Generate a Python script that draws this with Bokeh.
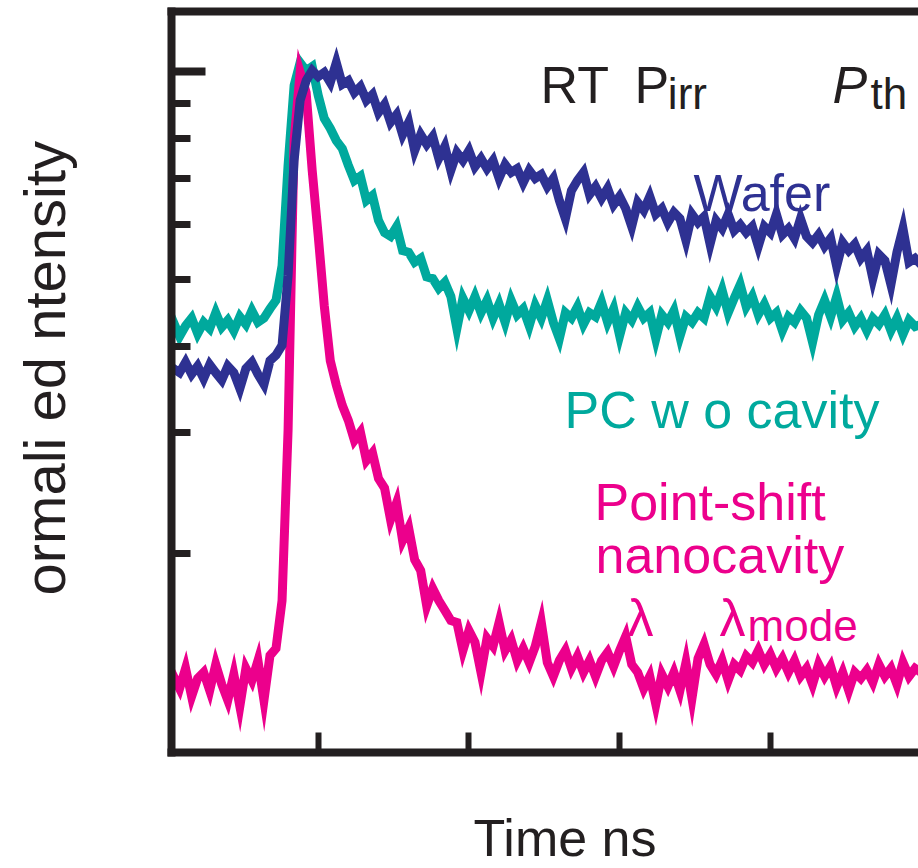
from bokeh.plotting import figure
from bokeh.models import Range1d, FixedTicker, LinearAxis, Label, CustomJSTickFormatter, Title
from bokeh.embed import file_html
from bokeh.resources import INLINE

# ---------------- data ----------------
t_ns = [0.00, 0.04, 0.08, 0.12, 0.16, 0.20, 0.24, 0.28, 0.32, 0.36,
        0.40, 0.44, 0.48, 0.52, 0.56, 0.60, 0.64, 0.68, 0.72, 0.76,
        0.80, 0.84, 0.88, 0.92, 0.96, 1.00, 1.04, 1.08, 1.12, 1.16,
        1.20, 1.24, 1.28, 1.32, 1.36, 1.40, 1.44, 1.48, 1.52, 1.56,
        1.60, 1.64, 1.68, 1.72, 1.76, 1.80, 1.84, 1.88, 1.92, 1.96,
        2.00, 2.04, 2.08, 2.12, 2.16, 2.20, 2.24, 2.28, 2.32, 2.36,
        2.40, 2.44, 2.48, 2.52, 2.56, 2.60, 2.64, 2.68, 2.72, 2.76,
        2.80, 2.84, 2.88, 2.92, 2.96, 3.00, 3.04, 3.08, 3.12, 3.16,
        3.20, 3.24, 3.28, 3.32, 3.36, 3.40, 3.44, 3.48, 3.52, 3.56,
        3.60, 3.64, 3.68, 3.72, 3.76, 3.80, 3.84, 3.88, 3.92, 3.96,
        4.00, 4.04, 4.08, 4.12, 4.16, 4.20, 4.24, 4.28, 4.32, 4.36,
        4.40, 4.44, 4.48, 4.52, 4.56, 4.60, 4.64, 4.68, 4.72, 4.76,
        4.80, 4.84, 4.88, 4.92, 4.96, 5.00]

pc_no_cavity = [0.418, 0.433, 0.413, 0.428, 0.439, 0.417, 0.433, 0.424, 0.447, 0.426,
                0.436, 0.421, 0.441, 0.430, 0.450, 0.433, 0.439, 0.453, 0.466, 0.523,
                0.731, 0.954, 1.030, 1.003, 1.017, 0.923, 0.855, 0.827, 0.794, 0.773,
                0.731, 0.695, 0.705, 0.650, 0.661, 0.608, 0.584, 0.577, 0.596, 0.550,
                0.547, 0.529, 0.536, 0.504, 0.501, 0.485, 0.495, 0.472, 0.424, 0.469,
                0.450, 0.472, 0.447, 0.466, 0.439, 0.460, 0.433, 0.466, 0.444, 0.453,
                0.428, 0.458, 0.439, 0.466, 0.433, 0.410, 0.447, 0.439, 0.456, 0.430,
                0.447, 0.441, 0.463, 0.433, 0.453, 0.414, 0.447, 0.436, 0.456, 0.439,
                0.447, 0.410, 0.444, 0.433, 0.450, 0.413, 0.441, 0.433, 0.447, 0.439,
                0.472, 0.456, 0.482, 0.447, 0.469, 0.491, 0.456, 0.472, 0.444, 0.460,
                0.439, 0.447, 0.421, 0.441, 0.433, 0.450, 0.439, 0.405, 0.444, 0.466,
                0.441, 0.472, 0.436, 0.447, 0.427, 0.439, 0.421, 0.439, 0.430, 0.444,
                0.421, 0.439, 0.416, 0.436, 0.427, 0.430]

wafer = [0.359, 0.371, 0.366, 0.379, 0.364, 0.374, 0.359, 0.376, 0.366, 0.357,
         0.374, 0.366, 0.347, 0.371, 0.379, 0.364, 0.352, 0.381, 0.388, 0.401,
         0.506, 0.743, 0.908, 0.970, 1.003, 0.983, 0.997, 0.964, 1.030, 0.958,
         0.970, 0.932, 0.951, 0.908, 0.926, 0.872, 0.896, 0.844, 0.866, 0.810,
         0.844, 0.768, 0.810, 0.784, 0.805, 0.748, 0.779, 0.719, 0.763, 0.743,
         0.768, 0.728, 0.748, 0.723, 0.743, 0.700, 0.733, 0.714, 0.723, 0.690,
         0.719, 0.700, 0.709, 0.681, 0.700, 0.650, 0.612, 0.672, 0.695, 0.714,
         0.663, 0.681, 0.655, 0.677, 0.641, 0.659, 0.633, 0.596, 0.646, 0.629,
         0.659, 0.621, 0.633, 0.604, 0.625, 0.612, 0.569, 0.621, 0.604, 0.616,
         0.562, 0.608, 0.592, 0.621, 0.588, 0.600, 0.584, 0.596, 0.558, 0.596,
         0.584, 0.621, 0.580, 0.592, 0.573, 0.612, 0.577, 0.565, 0.580, 0.558,
         0.573, 0.522, 0.565, 0.550, 0.562, 0.536, 0.550, 0.501, 0.543, 0.532,
         0.491, 0.547, 0.592, 0.529, 0.536, 0.525]

nanocavity = [0.1267, 0.1328, 0.1275, 0.1364, 0.1242, 0.1319, 0.1346, 0.1267, 0.1382, 0.1293,
              0.1226, 0.1337, 0.1202, 0.1364, 0.1310, 0.1400, 0.1226, 0.1424, 0.1458, 0.171,
              0.302, 0.794, 0.997, 0.932, 0.719, 0.578, 0.458, 0.381, 0.351, 0.328,
              0.312, 0.292, 0.300, 0.273, 0.280, 0.257, 0.249, 0.224, 0.237, 0.209,
              0.218, 0.196, 0.189, 0.168, 0.178, 0.171, 0.1655, 0.160, 0.159, 0.1448,
              0.1548, 0.1488, 0.1346, 0.1508, 0.1468, 0.159, 0.1448, 0.150, 0.140, 0.1458,
              0.1391, 0.1468, 0.159, 0.1391, 0.1328, 0.140, 0.1448, 0.1364, 0.1420, 0.1346,
              0.140, 0.1328, 0.140, 0.1439, 0.1373, 0.1448, 0.1518, 0.1382, 0.1346, 0.1275,
              0.1328, 0.1210, 0.1337, 0.1284, 0.1346, 0.1267, 0.1391, 0.1234, 0.1410, 0.1478,
              0.1382, 0.1337, 0.140, 0.131, 0.1382, 0.1355, 0.1420, 0.1391, 0.1448, 0.1382,
              0.1429, 0.1364, 0.1410, 0.1346, 0.140, 0.1328, 0.1364, 0.1293, 0.1382, 0.1328,
              0.1373, 0.1284, 0.1346, 0.1267, 0.1346, 0.1319, 0.1355, 0.1302, 0.1382, 0.1328,
              0.1364, 0.1293, 0.1391, 0.1328, 0.1364, 0.1346]

x_ticks = [1, 2, 3, 4]
y_major_ticks = [0.1, 1.0]
y_minor_ticks = [0.2, 0.3, 0.4, 0.5, 0.6, 0.7, 0.8, 0.9]

# ---------------- style ----------------
BLACK = "#231F20"
NAVY = "#2E3192"
TEAL = "#00A99D"
MAGENTA = "#EC008C"
FONT = "Liberation Sans"
BIG = "52px"
SUB = "44px"

p = figure(width=918, height=868,
           x_range=Range1d(0.0265, 4.983), y_range=Range1d(0.1030, 1.2217),
           y_axis_type="log", output_backend="svg", toolbar_location=None,
           min_border_left=171, min_border_right=0, min_border_top=11, min_border_bottom=116)
p.outline_line_color = None
p.grid.visible = False
p.background_fill_color = "white"
p.border_fill_color = "white"


def blank():
    return CustomJSTickFormatter(code="return ''")


xa = p.xaxis[0]
xa.ticker = FixedTicker(ticks=x_ticks)
xa.formatter = blank()
xa.major_label_text_font_size = "1px"
xa.axis_line_width = 8
xa.axis_line_color = BLACK
xa.axis_line_cap = "square"
xa.major_tick_in = 20
xa.major_tick_out = 0
xa.major_tick_line_width = 6
xa.major_tick_line_color = BLACK
xa.minor_tick_line_color = None
xa.major_label_standoff = 0

ya = p.yaxis[0]
ya.ticker = FixedTicker(ticks=y_major_ticks, minor_ticks=y_minor_ticks)
ya.formatter = blank()
ya.major_label_text_font_size = "1px"
ya.axis_line_width = 8
ya.axis_line_color = BLACK
ya.axis_line_cap = "square"
ya.major_tick_in = 34
ya.major_tick_out = 0
ya.major_tick_line_width = 8
ya.major_tick_line_color = BLACK
ya.minor_tick_in = 19
ya.minor_tick_out = 0
ya.minor_tick_line_width = 7
ya.minor_tick_line_color = BLACK
ya.major_label_standoff = 0

top = LinearAxis(ticker=FixedTicker(ticks=x_ticks), formatter=blank(),
                 major_label_text_font_size="1px",
                 axis_line_width=8, axis_line_color=BLACK,
                 axis_line_cap="square", major_tick_line_color=None, minor_tick_line_color=None,
                 major_tick_out=0, minor_tick_out=0, major_tick_in=0, minor_tick_in=0,
                 major_label_standoff=0)
p.add_layout(top, "above")


def spacer(size):
    # invisible axis whose (outward) tick length reserves room between the frame and a title
    return LinearAxis(ticker=FixedTicker(ticks=x_ticks), formatter=blank(),
                      major_label_text_font_size="1px", axis_line_color=None,
                      major_tick_line_color=None, minor_tick_line_color=None,
                      major_tick_in=0, minor_tick_in=0, minor_tick_out=0,
                      major_tick_out=size, major_label_standoff=0)


p.add_layout(spacer(54), "below")
p.add_layout(spacer(95), "left")

p.line(t_ns, pc_no_cavity, line_width=9, line_color=TEAL, line_join="miter")
p.line(t_ns, nanocavity, line_width=9, line_color=MAGENTA, line_join="miter")
p.line(t_ns, wafer, line_width=9, line_color=NAVY, line_join="miter")


def lab(x, y, text, size, color, italic=False):
    p.add_layout(Label(x=x, y=y, text=text, text_font=FONT, text_font_size=size,
                       text_color=color, text_font_style="italic" if italic else "normal",
                       text_baseline="alphabetic", text_align="left"))


lab(2.475, 0.957, "RT", BIG, BLACK)
lab(3.099, 0.957, "P", BIG, BLACK)
lab(3.320, 0.929, "irr", SUB, BLACK)
lab(4.413, 0.957, "P", BIG, BLACK, italic=True)
lab(4.665, 0.929, "th", SUB, BLACK)
lab(3.490, 0.666, "Wafer", BIG, NAVY)
lab(2.634, 0.3226, "PC w o cavity", BIG, TEAL)
lab(2.833, 0.2373, "Point-shift", BIG, MAGENTA)
lab(2.840, 0.1988, "nanocavity", BIG, MAGENTA)
lab(3.052, 0.1611, "λ", BIG, MAGENTA)
lab(3.663, 0.1611, "λ", BIG, MAGENTA)
lab(3.849, 0.1574, "mode", SUB, MAGENTA)

# axis titles
ytitle = Title(text="ormali ed ntensity", align="left", offset=157, standoff=0,
               text_font=FONT, text_font_size="58px", text_font_style="normal", text_color=BLACK)
p.add_layout(ytitle, "left")
xtitle = Title(text="Time ns", align="left", offset=302, standoff=0,
               text_font=FONT, text_font_size=BIG, text_font_style="normal", text_color=BLACK)
p.add_layout(xtitle, "below")

open("out.html", "w").write(file_html(p, INLINE))
